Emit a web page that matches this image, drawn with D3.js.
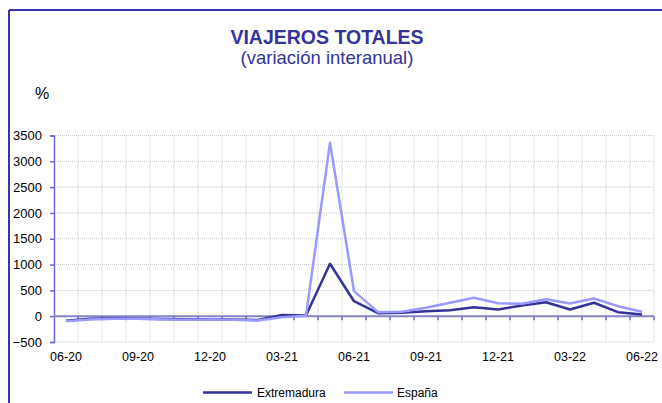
<!DOCTYPE html>
<html>
<head>
<meta charset="utf-8">
<script src="https://cdn.jsdelivr.net/npm/d3@7"></script>
<style>
  body { margin: 0; background: #fff; }
  svg { display: block; font-family: "Liberation Sans", Arial, sans-serif; }
</style>
</head>
<body>
<svg id="chart"></svg>
<script>
// data
var months = ["06-20","07-20","08-20","09-20","10-20","11-20","12-20","01-21","02-21","03-21","04-21","05-21",
              "06-21","07-21","08-21","09-21","10-21","11-21","12-21","01-22","02-22","03-22","04-22","05-22","06-22"];
var extremadura = [-90,-50,-40,-45,-55,-60,-60,-65,-75,25,15,1015,290,58,65,97,116,175,130,207,271,130,260,78,33];
var espana = [-97,-65,-50,-50,-62,-70,-65,-70,-85,-20,10,3360,485,78,85,162,260,356,252,240,330,246,343,194,85];
var yTicks = [-500,0,500,1000,1500,2000,2500,3000,3500];
var xLabels = ["06-20","09-20","12-20","03-21","06-21","09-21","12-21","03-22","06-22"];

var svgWidth = 662, svgHeight = 403;
var svg = d3.select("#chart")
    .attr("width", svgWidth)
    .attr("height", svgHeight);

// outer frame (only top + left show inside the picture)
svg.append("line").attr("x1", 9).attr("x2", 662).attr("y1", 10).attr("y2", 10)
    .attr("stroke", "#3535a5").attr("stroke-width", 2);
svg.append("line").attr("x1", 9).attr("x2", 9).attr("y1", 10).attr("y2", 403)
    .attr("stroke", "#3535a5").attr("stroke-width", 2);

svg.append("text").text("VIAJEROS TOTALES")
    .attr("x", 327).attr("y", 44)
    .attr("text-anchor", "middle")
    .style("font-size", "19.5px").style("font-weight", "bold")
    .attr("fill", "#333399");
svg.append("text").text("(variación interanual)")
    .attr("x", 327).attr("y", 64)
    .attr("text-anchor", "middle")
    .style("font-size", "18.5px")
    .attr("fill", "#333399");
svg.append("text").text("%")
    .attr("x", 35).attr("y", 99)
    .style("font-size", "16px")
    .attr("fill", "#000");

var x = d3.scaleBand().domain(months).range([54, 654]);
var y = d3.scaleLinear().domain([-500, 3500]).range([342, 135.5]);

// grid
var grid = svg.append("g");
grid.selectAll(".hg").data(yTicks).enter().append("line")
    .attr("x1", 54).attr("x2", 654)
    .attr("y1", function(d) { return y(d); }).attr("y2", function(d) { return y(d); })
    .attr("stroke", "#c8c8c8").attr("stroke-dasharray", "1,1");
grid.selectAll(".vg").data(months).enter().append("line")
    .attr("x1", function(d) { return x(d) + x.bandwidth(); })
    .attr("x2", function(d) { return x(d) + x.bandwidth(); })
    .attr("y1", y(3500)).attr("y2", y(-500))
    .attr("stroke", "#c8c8c8").attr("stroke-dasharray", "1,1");

// y axis
var yAxis = d3.axisLeft(y).tickValues(yTicks).tickFormat(d3.format("d")).tickSize(4).tickPadding(8);
var gy = svg.append("g").attr("transform", "translate(54,0)").call(yAxis);
gy.select(".domain").attr("stroke", "#6a6acc").attr("stroke-width", 1.5);
gy.selectAll(".tick line").attr("stroke", "#6a6acc").attr("stroke-width", 1.5);
gy.selectAll("text").style("font-size", "13px").attr("fill", "#000")
    .style("font-family", "'Liberation Sans', Arial, sans-serif");

// x axis line at zero
svg.append("line").attr("x1", 54).attr("x2", 654).attr("y1", y(0)).attr("y2", y(0))
    .attr("stroke", "#8585c8").attr("stroke-width", 2);
svg.selectAll(".xt").data(months).enter().append("line")
    .attr("x1", function(d) { return x(d) + x.bandwidth(); })
    .attr("x2", function(d) { return x(d) + x.bandwidth(); })
    .attr("y1", y(0)).attr("y2", y(0) + 4)
    .attr("stroke", "#6a6acc").attr("stroke-width", 1.5);
svg.selectAll(".xl").data(xLabels).enter().append("text")
    .text(function(d) { return d; })
    .attr("x", function(d) { return x(d) + x.bandwidth() / 2; })
    .attr("y", 361)
    .attr("text-anchor", "middle")
    .style("font-size", "12.5px").attr("fill", "#000");

// lines
var line = d3.line()
    .x(function(d, i) { return x(months[i]) + x.bandwidth() / 2; })
    .y(function(d) { return y(d); });

svg.append("path").datum(extremadura).attr("d", line)
    .attr("fill", "none").attr("stroke", "#333399").attr("stroke-width", 2.5)
    .attr("stroke-linejoin", "round");
svg.append("path").datum(espana).attr("d", line)
    .attr("fill", "none").attr("stroke", "#9999ff").attr("stroke-width", 2.5)
    .attr("stroke-linejoin", "round");

// legend
svg.append("line").attr("x1", 203).attr("x2", 252).attr("y1", 392.5).attr("y2", 392.5)
    .attr("stroke", "#333399").attr("stroke-width", 2.5);
svg.append("text").text("Extremadura").attr("x", 257).attr("y", 396.5)
    .style("font-size", "12px").attr("fill", "#000");
svg.append("line").attr("x1", 344).attr("x2", 393).attr("y1", 392.5).attr("y2", 392.5)
    .attr("stroke", "#9999ff").attr("stroke-width", 2.5);
svg.append("text").text("España").attr("x", 397).attr("y", 396.5)
    .style("font-size", "12px").attr("fill", "#000");
</script>
</body>
</html>
